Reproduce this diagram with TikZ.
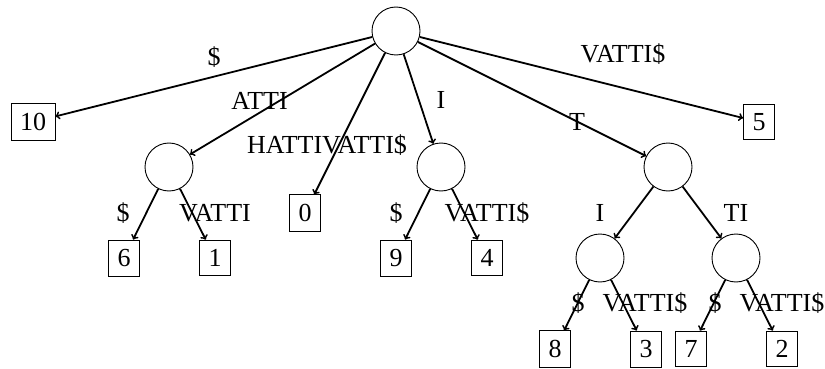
\documentclass[tikz,border=0pt]{standalone}
\usepackage{fontspec}
\setmainfont{Liberation Serif}
\begin{document}
\begin{tikzpicture}[x=1pt,y=-1pt,
  inode/.style={circle,draw,line width=0.9pt,minimum size=48pt,inner sep=0pt},
  leaf/.style={rectangle,draw,line width=0.9pt,inner xsep=9pt,inner ysep=9.3pt,font=\fontsize{26}{30}\selectfont},
  lbl/.style={inner sep=0pt,font=\fontsize{26}{30}\selectfont},
  edge/.style={->,line width=1.8pt}]
\useasboundingbox (0,0) rectangle (825,369);
% internal nodes
\node[inode] (r) at (396,31) {};
\node[inode] (a) at (169,167) {};
\node[inode] (i) at (441,167) {};
\node[inode] (t) at (668,167) {};
\node[inode] (ti) at (600,258) {};
\node[inode] (tt) at (736,258) {};
% leaves
\node[leaf] (l10) at (33,122) {10};
\node[leaf] (l5) at (759,122) {5};
\node[leaf] (l0) at (305,213) {0};
\node[leaf] (l6) at (124,258) {6};
\node[leaf] (l1) at (215,258) {1};
\node[leaf] (l9) at (396,258) {9};
\node[leaf] (l4) at (487,258) {4};
\node[leaf] (l8) at (555,349) {8};
\node[leaf] (l3) at (646,349) {3};
\node[leaf] (l7) at (691,349) {7};
\node[leaf] (l2) at (782,349) {2};
% edges
\draw[edge] (r) -- (l10);
\draw[edge] (r) -- (a);
\draw[edge] (r) -- (l0);
\draw[edge] (r) -- (i);
\draw[edge] (r) -- (t);
\draw[edge] (r) -- (l5);
\draw[edge] (a) -- (l6);
\draw[edge] (a) -- (l1);
\draw[edge] (i) -- (l9);
\draw[edge] (i) -- (l4);
\draw[edge] (t) -- (ti);
\draw[edge] (t) -- (tt);
\draw[edge] (ti) -- (l8);
\draw[edge] (ti) -- (l3);
\draw[edge] (tt) -- (l7);
\draw[edge] (tt) -- (l2);
% labels
\node[lbl] (e1) at (214,57) {\$};
\node[lbl] (e2) at (259.5,101) {ATTI};
\node[lbl] (e3) at (327,145) {HATTIVATTI\$};
\node[lbl] (e4) at (441,100) {I};
\node[lbl] (e5) at (577,122) {T};
\node[lbl] (e6) at (623,54) {VATTI\$};
\node[lbl] (e7) at (123,213) {\$};
\node[lbl] (e8) at (215,213) {VATTI};
\node[lbl] (e9) at (396,213) {\$};
\node[lbl] (e10) at (487,213) {VATTI\$};
\node[lbl] (e11) at (600,213) {I};
\node[lbl] (e12) at (736,213) {TI};
\node[lbl] (e13) at (578,303) {\$};
\node[lbl] (e14) at (645,303) {VATTI\$};
\node[lbl] (e15) at (715,303) {\$};
\node[lbl] (e16) at (782,303) {VATTI\$};
\end{tikzpicture}
\end{document}
